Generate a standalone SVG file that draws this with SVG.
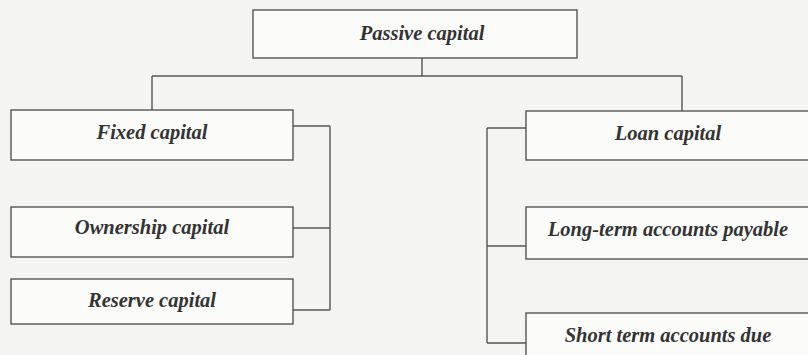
<svg xmlns="http://www.w3.org/2000/svg" width="808" height="355" viewBox="0 0 808 355">
<style>
.box{fill:#fbfbfa;stroke:#555;stroke-width:1.4}
.lbl{font-family:"Liberation Serif","Times New Roman",serif;font-weight:bold;font-style:italic;font-size:20.5px;fill:#333;text-anchor:middle}
.con{fill:none;stroke:#555;stroke-width:1.4}
</style>
<rect width="808" height="355" fill="#f4f4f2"/>
<g id="connectors">
<path class="con" d="M422 58V76M152 76H682M152 76V110M682 76V111"/>
<path class="con" d="M293 126H330M293 228H330M293 310H330M330 126V310"/>
<path class="con" d="M526 128H487M526 246H487M526 343H487M487 128V343"/>
</g>
<g id="passive"><rect class="box" x="253" y="10" width="324" height="48"/><text class="lbl" x="422" y="40">Passive capital</text></g>
<g id="fixed"><rect class="box" x="11" y="110" width="282" height="50"/><text class="lbl" x="152" y="139">Fixed capital</text></g>
<g id="ownership"><rect class="box" x="11" y="207" width="282" height="50"/><text class="lbl" x="152" y="234">Ownership capital</text></g>
<g id="reserve"><rect class="box" x="11" y="279" width="282" height="45"/><text class="lbl" x="152" y="307">Reserve capital</text></g>
<g id="loan"><rect class="box" x="526" y="111" width="290" height="49"/><text class="lbl" x="668" y="140">Loan capital</text></g>
<g id="longterm"><rect class="box" x="526" y="207" width="290" height="52"/><text class="lbl" x="668" y="236">Long-term accounts payable</text></g>
<g id="shortterm"><rect class="box" x="526" y="313" width="290" height="50"/><text class="lbl" x="668" y="342">Short term accounts due</text></g>
</svg>
